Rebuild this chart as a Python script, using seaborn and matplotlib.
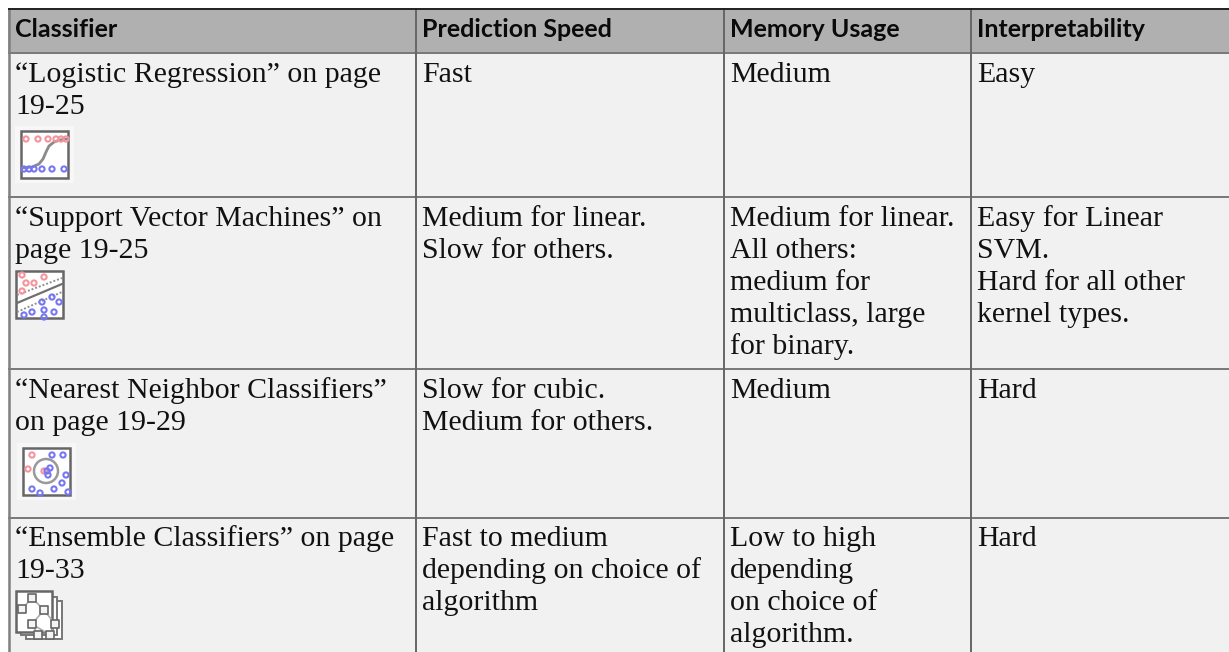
import numpy as np
import seaborn as sns
import matplotlib.pyplot as plt
from matplotlib.colors import ListedColormap
from matplotlib.patches import Circle, Rectangle

W, H = 1229, 652

# table content
headers = ['Classifier', 'Prediction Speed', 'Memory Usage', 'Interpretability']
classifiers = [
    ['“Logistic Regression” on page', '19-25'],
    ['“Support Vector Machines” on', 'page 19-25'],
    ['“Nearest Neighbor Classifiers”', 'on page 19-29'],
    ['“Ensemble Classifiers” on page', '19-33'],
]
prediction_speed = [
    ['Fast'],
    ['Medium for linear.', 'Slow for others.'],
    ['Slow for cubic.', 'Medium for others.'],
    ['Fast to medium', 'depending on choice of', 'algorithm'],
]
memory_usage = [
    ['Medium'],
    ['Medium for linear.', 'All others:', 'medium for', 'multiclass, large', 'for binary.'],
    ['Medium'],
    ['Low to high', 'depending', 'on choice of', 'algorithm.'],
]
interpretability = [
    ['Easy'],
    ['Easy for Linear', 'SVM.', 'Hard for all other', 'kernel types.'],
    ['Hard'],
    ['Hard'],
]

# grid, in pixels of the page
col_edges = [8, 415, 723, 970, W]
row_edges = [8, 52, 196, 368, 517, H]

# icon marks, relative to the top left corner of each icon frame
logistic_red_x = [5, 17, 27, 35, 40, 45]
logistic_red_y = [8, 8, 8, 8, 8, 8]
logistic_blue_x = [3, 8, 13, 21, 31, 43]
logistic_blue_y = [38, 38, 38, 38, 38, 38]
logistic_curve_x = [3, 11, 18, 22, 25, 28, 33, 39, 45]
logistic_curve_y = [37, 36, 33, 28, 21, 15, 11, 9, 8]

svm_red_x = [6, 10, 18, 28, 6]
svm_red_y = [4, 12, 12, 6, 20]
svm_blue_x = [8, 16, 28, 38, 26, 36, 43, 28]
svm_blue_y = [44, 41, 39, 41, 31, 26, 31, 46]
svm_line_x = [1, 46]
svm_line_y = [32, 13]
svm_upper_y = [24, 7]
svm_lower_y = [41, 21]

knn_red_x = [9, 5, 21]
knn_red_y = [7, 21, 23]
knn_blue_x = [29, 40, 27, 25, 43, 39, 31, 9, 17, 45, 24]
knn_blue_y = [7, 7, 20, 27, 27, 35, 41, 41, 45, 44, 23]
knn_center = (23, 23)
knn_radius = 12

tree_x = [16, 6, 28, 16, 39, 22, 34]
tree_y = [7, 18, 19, 33, 33, 44, 44]
tree_links = [(0, 1), (0, 2), (2, 3), (2, 4), (3, 5), (4, 6), (3, 6)]

TEXT = '#111111'
RED = '#f4939c'
BLUE = '#7676f2'
FRAME = '#666666'


def ring_points(ax, x, y, color):
    sns.scatterplot(x=x, y=y, ax=ax, marker='o', s=14, facecolor='none',
                    edgecolor=color, linewidth=1.5, zorder=5, legend=False)


def icon_frame(ax, x0, y0, w=47, h=47, halo=True):
    if halo:
        ax.add_patch(Rectangle((x0 - 6, y0 - 5), w + 12, h + 10, facecolor='#f7f7f7',
                               edgecolor='none', zorder=2))
    ax.add_patch(Rectangle((x0, y0), w, h, facecolor='white', edgecolor=FRAME,
                           linewidth=1.8, zorder=3))


def logistic_icon(ax, x0, y0):
    icon_frame(ax, x0, y0)
    ring_points(ax, np.add(logistic_red_x, x0), np.add(logistic_red_y, y0), RED)
    ring_points(ax, np.add(logistic_blue_x, x0), np.add(logistic_blue_y, y0), BLUE)
    ax.plot(np.add(logistic_curve_x, x0), np.add(logistic_curve_y, y0),
            color='#8a8a8a', lw=2, zorder=4)


def svm_icon(ax, x0, y0):
    icon_frame(ax, x0, y0, halo=False)
    ring_points(ax, np.add(svm_red_x, x0), np.add(svm_red_y, y0), RED)
    ring_points(ax, np.add(svm_blue_x, x0), np.add(svm_blue_y, y0), BLUE)
    lx = np.add(svm_line_x, x0)
    ax.plot(lx, np.add(svm_line_y, y0), color='#707070', lw=1.6, zorder=4)
    ax.plot(lx, np.add(svm_upper_y, y0), color='#909090', lw=1.4, ls=(0, (1, 1)), zorder=4)
    ax.plot(lx, np.add(svm_lower_y, y0), color='#909090', lw=1.4, ls=(0, (1, 1)), zorder=4)


def knn_icon(ax, x0, y0):
    icon_frame(ax, x0, y0)
    ax.add_patch(Circle((x0 + knn_center[0], y0 + knn_center[1]), knn_radius, fill=False,
                        edgecolor='#999999', linewidth=1.8, zorder=4))
    ring_points(ax, np.add(knn_red_x, x0), np.add(knn_red_y, y0), RED)
    ring_points(ax, np.add(knn_blue_x, x0), np.add(knn_blue_y, y0), BLUE)


def ensemble_icon(ax, x0, y0):
    # two sheets behind the front one
    ax.add_patch(Rectangle((x0 + 10, y0 + 10), 36, 38, facecolor='white', edgecolor='#777777',
                           linewidth=1.4, zorder=2))
    ax.add_patch(Rectangle((x0 + 5, y0 + 6), 36, 38, facecolor='white', edgecolor='#777777',
                           linewidth=1.4, zorder=2))
    icon_frame(ax, x0, y0, w=36, h=41, halo=False)
    tx = np.add(tree_x, x0)
    ty = np.add(tree_y, y0)
    for a, b in tree_links:
        ax.plot([tx[a], tx[b]], [ty[a], ty[b]], color='#aaaaaa', lw=1.2, zorder=4)
    sns.scatterplot(x=tx, y=ty, ax=ax, marker='s', s=26, facecolor='#f4f4f4',
                    edgecolor='#666666', linewidth=1.2, zorder=5, legend=False)


def draw_table(ax):
    # background: one heatmap cell per pixel, so data coordinates are pixels
    col_sizes = np.diff([0] + col_edges)
    row_sizes = np.diff([0] + row_edges)
    shade = np.ones((len(row_sizes), len(col_sizes)))
    shade[0, :] = 0
    shade[:, 0] = 0
    shade[1, 1:] = 2
    shade = np.repeat(np.repeat(shade, row_sizes, axis=0), col_sizes, axis=1)
    sns.heatmap(shade, ax=ax, cmap=ListedColormap(['#ffffff', '#f1f1f1', '#b0b0b0']),
                vmin=0, vmax=2, cbar=False, xticklabels=False, yticklabels=False)

    for y in row_edges[1:-1]:
        ax.hlines(y + 0.5, col_edges[0], W, color='#777777', lw=1.4, zorder=2)
    for x in col_edges[1:-1]:
        ax.vlines(x + 0.5, row_edges[0], H, color='#666666', lw=1.4, zorder=2)
    ax.vlines(col_edges[0] + 0.5, row_edges[0], H, color='#808080', lw=1.8, zorder=2)
    ax.hlines(row_edges[0] + 0.5, col_edges[0], W, color='#222222', lw=1.4, zorder=2)


def draw_text(ax):
    for x, label in zip(col_edges, headers):
        ax.text(x + 7, 37, label, fontsize=18, fontweight='bold', color='#0a0a0a',
                family='Lato', va='baseline', zorder=6)
    columns = [classifiers, prediction_speed, memory_usage, interpretability]
    for x, column in zip(col_edges, columns):
        for top, cell in zip(row_edges[1:], column):
            for i, line in enumerate(cell):
                ax.text(x + 7, top + 29.5 + 32 * i, line, fontsize=21.5, color=TEXT,
                        family='Liberation Serif', va='baseline', zorder=6)


def main():
    sns.set_theme(style='white')
    fig, ax = plt.subplots(figsize=(W / 100, H / 100), dpi=100)
    fig.subplots_adjust(left=0, right=1, top=1, bottom=0)

    draw_table(ax)
    draw_text(ax)

    logistic_icon(ax, 21, 131)
    svm_icon(ax, 16, 271)
    knn_icon(ax, 23, 448)
    ensemble_icon(ax, 16, 591)

    ax.set_xlim(0, W)
    ax.set_ylim(H, 0)
    ax.set_xlabel('')
    ax.set_ylabel('')
    sns.despine(ax=ax, left=True, bottom=True)

    fig.savefig('out.png', dpi=100, facecolor='white')
    plt.close(fig)


if __name__ == "__main__":
    main()
